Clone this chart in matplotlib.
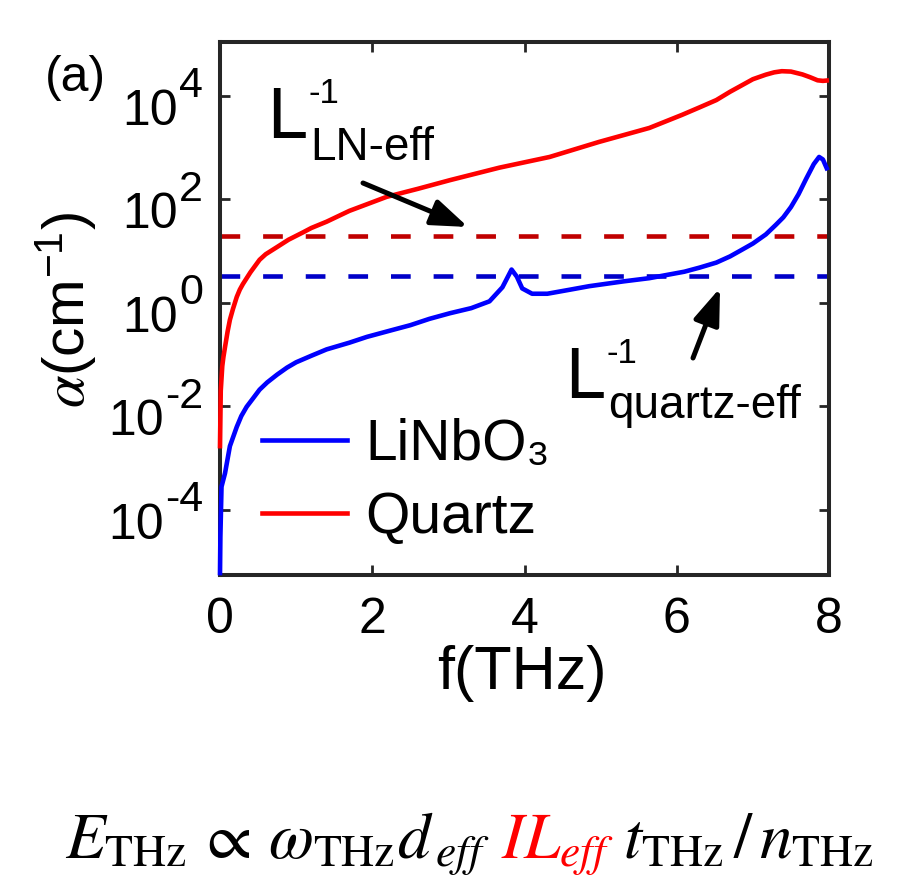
import matplotlib
matplotlib.use('Agg')
import matplotlib.pyplot as plt
from matplotlib.ticker import NullLocator

plt.rcParams['font.family'] = ['Liberation Sans', 'DejaVu Sans']
plt.rcParams['mathtext.fontset'] = 'stix'

# data
f_ln = [0.0, 0.005, 0.02, 0.066, 0.13, 0.22, 0.28, 0.35, 0.43, 0.52, 0.62, 0.75, 0.88,
        1.00, 1.20, 1.40, 1.70, 1.93, 2.25, 2.50, 2.75, 3.02, 3.30, 3.54, 3.71, 3.83,
        3.90, 3.97, 4.10, 4.30, 4.60, 4.85, 5.30, 5.64, 6.10, 6.30, 6.52, 6.70, 6.85,
        7.00, 7.17, 7.30, 7.40, 7.50, 7.60, 7.70, 7.80, 7.87, 7.92, 7.97]
a_ln = [6.0e-6, 3.0e-5, 2.8e-4, 5.1e-4, 1.7e-3, 4.0e-3, 6.5e-3, 9.8e-3, 1.4e-2, 2.1e-2,
        2.9e-2, 4.1e-2, 5.6e-2, 7.1e-2, 9.5e-2, 0.126, 0.17, 0.22, 0.295, 0.37, 0.49,
        0.63, 0.79, 1.07, 2.0, 4.4, 3.2, 1.9, 1.5, 1.5, 1.8, 2.1, 2.6, 3.0, 4.0, 4.8,
        6.0, 7.9, 10.5, 14, 21, 32, 45, 71, 126, 250, 480, 660, 590, 400]
f_qz = [0.0, 0.01, 0.03, 0.045, 0.066, 0.10, 0.13, 0.17, 0.22, 0.26, 0.30, 0.40, 0.52,
        0.60, 0.75, 0.90, 1.09, 1.20, 1.40, 1.70, 2.19, 2.60, 3.02, 3.67, 4.33, 4.98,
        5.64, 6.07, 6.30, 6.52, 6.70, 6.82, 7.00, 7.17, 7.28, 7.38, 7.50, 7.65, 7.75,
        7.85, 7.92, 7.97]
a_qz = [1.7e-3, 2.0e-2, 6.0e-2, 9.0e-2, 0.14, 0.28, 0.47, 0.76, 1.3, 1.8, 2.3, 3.9, 6.8,
        8.7, 12, 16.6, 23, 28, 37, 60, 112, 160, 235, 410, 660, 1290,
        2400, 4300, 6000, 8300, 12000, 15000, 21000, 25700, 28500, 30000, 29500, 26000,
        23000, 20000, 19500, 19800]
L_ln_inv = 20.0
L_qz_inv = 3.3
labels = ['LiNbO₃', 'Quartz']
xticks = [0, 2, 4, 6, 8]
ytick_exp = [-4, -2, 0, 2, 4]

W, H = 911, 885
fig = plt.figure(figsize=(W / 100, H / 100), dpi=100)
ax = fig.add_axes([220 / W, 1 - 575 / H, 609 / W, 533 / H])

ax.plot([0, 8], [L_ln_inv, L_ln_inv], color='#C00000', lw=3.3, dashes=(4.3, 5.0))
ax.plot([0, 8], [L_qz_inv, L_qz_inv], color='#0000C8', lw=3.3, dashes=(4.3, 5.0))
l1, = ax.plot(f_ln, a_ln, color='#0000FF', lw=3.3, zorder=3, clip_on=False)
l2, = ax.plot(f_qz, a_qz, color='#FF0000', lw=3.3, zorder=3, clip_on=False)

ax.set_yscale('log')
ax.set_xlim(0, 8)
ax.set_ylim(5.5e-6, 1.1e5)
ax.set_xticks(xticks)
ax.set_xticklabels([str(v) for v in xticks], fontsize=36)
ax.set_yticks([10.0 ** e for e in ytick_exp])
ax.set_yticklabels([])
ax.yaxis.set_minor_locator(NullLocator())
ax.tick_params(which='both', direction='in', top=True, right=True,
               length=7, width=2, color='#262626', pad=16)
for s in ax.spines.values():
    s.set_linewidth(2.9)
    s.set_color('#262626')

ax.legend([l1, l2], labels, loc='center left', bbox_to_anchor=(0.069, 0.176),
          frameon=False, fontsize=41, handlelength=1.5, handletextpad=0.32,
          labelspacing=0.33, borderpad=0, borderaxespad=0)

fig.text(522 / W, 1 - 674 / H, 'f(THz)', fontsize=44, ha='center', va='center')
fig.text(66 / W, 1 - 310 / H, r'$\alpha\mathregular{(cm^{-1})}$', fontsize=42,
         rotation=90, ha='center', va='center')
fig.text(75 / W, 1 - 78 / H, '(a)', fontsize=36, ha='center', va='center')

# L^-1 labels
fig.canvas.draw()
for lx, lb, sb, sub_txt in [(267, 138, 160, 'LN-eff'), (565, 398, 418, 'quartz-eff')]:
    tl = fig.text(lx / W, 1 - lb / H, 'L', fontsize=52, va='baseline')
    fig.canvas.draw()
    x1 = tl.get_window_extent().x1
    fig.text((x1 + 1) / W, 1 - (lb - 35) / H, '-1', fontsize=25, va='baseline')
    fig.text((x1 + 3) / W, 1 - sb / H, sub_txt, fontsize=33, va='baseline')

arr = dict(arrowstyle='-|>,head_length=1.1,head_width=0.4', lw=3.6, color='black',
           shrinkA=0, shrinkB=0, mutation_scale=20)
ax.annotate('', xy=(468, H - 227), xytext=(363, H - 183), xycoords='figure pixels',
            textcoords='figure pixels', arrowprops=arr)
ax.annotate('', xy=(720, H - 288), xytext=(693, H - 358), xycoords='figure pixels',
            textcoords='figure pixels', arrowprops=arr)

# y tick labels as 10 + raised exponent
fs_b, fs_e = 36, 31
for e in ytick_exp:
    yd = ax.transData.transform((1, 10.0 ** e))[1]
    base_e = yd + 14 - 0.358 * fs_e * 100 / 72
    te = fig.text(203 / W, base_e / H, str(e), fontsize=fs_e, ha='right', va='baseline')
    fig.canvas.draw()
    bb = te.get_window_extent()
    base_b = yd - 11 - 0.358 * fs_b * 100 / 72
    fig.text((bb.x0 - 1) / W, base_b / H, '10', fontsize=fs_b, ha='right', va='baseline')

# equation below the chart
yb = 1 - 858 / H
t1 = fig.text(65 / W, yb, r'$E_{\mathrm{THz}}\,\propto\,\omega_{\mathrm{THz}}d_{\,eff}$',
              fontsize=47, va='baseline')
fig.canvas.draw()
x1 = t1.get_window_extent().x1
t2 = fig.text((x1 + 11) / W, yb, r'$IL_{eff}$', fontsize=47, va='baseline', color='red')
fig.canvas.draw()
x2 = t2.get_window_extent().x1
fig.text((x2 + 10) / W, yb, r'$t_{\mathrm{THz}}\,/\,n_{\mathrm{THz}}$', fontsize=47,
         va='baseline')

fig.savefig('out.png', dpi=100)
